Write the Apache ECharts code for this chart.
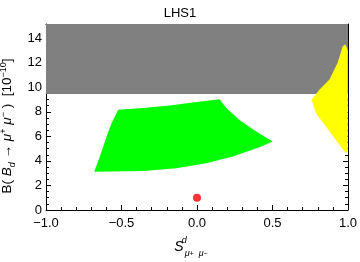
<!DOCTYPE html>
<html>
<head>
<meta charset="utf-8">
<script src="https://cdn.jsdelivr.net/npm/echarts@6/dist/echarts.min.js"></script>
<style>html,body{margin:0;padding:0;background:#fff}#c{width:360px;height:262px}</style>
</head>
<body>
<div id="c"></div>
<script>
// ---- data ----
var xRange = [-1, 1];
var yRange = [0, 15.15];
var xTicks = [-1, -0.5, 0, 0.5, 1];
var yTicks = [0, 2, 4, 6, 8, 10, 12, 14];
// excluded (gray) band: y above this value
var grayBand = [[-1, 9.45], [1, 9.45], [1, 15.15], [-1, 15.15]];
// green allowed region outline (x, y)
var greenRegion = [
  [-0.522, 8.16], [-0.357, 8.30], [-0.181, 8.51], [-0.027, 8.75], [0.149, 9.03],
  [0.194, 8.30], [0.281, 7.34], [0.392, 6.39], [0.501, 5.57],
  [0.413, 5.11], [0.237, 4.35], [0.061, 3.81], [-0.137, 3.40], [-0.357, 3.18], [-0.681, 3.12],
  [-0.643, 4.35], [-0.599, 5.98], [-0.566, 7.07]
];
// yellow allowed region outline (x, y)
var yellowRegion = [
  [0.982, 13.5], [0.964, 13.32], [0.931, 11.97], [0.876, 10.60], [0.810, 9.79], [0.759, 8.97],
  [0.788, 7.89], [0.854, 6.79], [0.920, 5.71], [0.986, 4.62], [0.998, 4.9], [0.998, 13.05]
];
// Standard Model point
var smPoint = [[0, 1.0]];

var chart = echarts.init(document.getElementById('c'), null, {renderer: 'canvas'});
var FONT = 'Liberation Sans, Arial, sans-serif';

function polySeries(pts, color, z) {
  return {
    type: 'custom', coordinateSystem: 'cartesian2d', silent: true, z: z,
    data: pts, clip: true,
    renderItem: function (params, api) {
      if (params.dataIndex !== 0) return null;
      return {
        type: 'polygon',
        shape: {points: pts.map(function (p) { return api.coord(p); })},
        style: {fill: color, stroke: null}
      };
    }
  };
}

function fmtX(v) {
  if (xTicks.indexOf(v) < 0) return '';
  return (v < 0 ? '\u2212' : '') + Math.abs(v).toFixed(1);
}
function fmtY(v) {
  return yTicks.indexOf(v) < 0 ? '' : String(v);
}

var tickStyle = {color: '#000', width: 1};
var commonX = {
  type: 'value', min: xRange[0], max: xRange[1], interval: 0.5,
  axisLine: {show: true, onZero: false, lineStyle: {color: '#000', width: 1}},
  axisTick: {show: true, inside: true, length: 5, lineStyle: tickStyle},
  minorTick: {show: true, splitNumber: 5, length: 3, lineStyle: tickStyle},
  splitLine: {show: false}
};
var commonY = {
  type: 'value', min: yRange[0], max: yRange[1], interval: 2,
  axisLine: {show: true, onZero: false, lineStyle: {color: '#000', width: 1}},
  axisTick: {show: true, inside: true, length: 5, lineStyle: tickStyle},
  minorTick: {show: true, splitNumber: 4, length: 3, lineStyle: tickStyle},
  splitLine: {show: false}
};

var xRich = {
  i: {fontSize: 14, fontFamily: FONT, fontStyle: 'italic', color: '#000', lineHeight: 22, verticalAlign: 'middle'},
  supi: {fontSize: 9, fontFamily: FONT, fontStyle: 'italic', color: '#000', lineHeight: 11, verticalAlign: 'top', width: 1},
  subi: {fontSize: 9, fontFamily: FONT, fontStyle: 'italic', color: '#000', lineHeight: 11, verticalAlign: 'bottom'},
  subr: {fontSize: 7, fontFamily: FONT, color: '#000', lineHeight: 15, verticalAlign: 'bottom'}
};
var yRich = {
  r: {fontSize: 13.5, fontFamily: FONT, color: '#000', lineHeight: 18, verticalAlign: 'middle'},
  i: {fontSize: 13.5, fontFamily: FONT, fontStyle: 'italic', color: '#000', lineHeight: 18, verticalAlign: 'middle'},
  sup: {fontSize: 9, fontFamily: FONT, color: '#000', lineHeight: 9, verticalAlign: 'top'},
  sub: {fontSize: 9, fontFamily: FONT, fontStyle: 'italic', color: '#000', lineHeight: 9, verticalAlign: 'bottom'}
};

chart.setOption({
  animation: false,
  backgroundColor: '#fff',
  title: {
    text: 'LHS1', left: 'center', top: 2,
    textStyle: {fontSize: 13, fontWeight: 'normal', fontFamily: FONT, color: '#000'}
  },
  grid: {left: 46, right: 12, top: 24, bottom: 52, containLabel: false, outerBoundsMode: 'none'},
  xAxis: [
    Object.assign({}, commonX, {
      position: 'bottom',
      axisLabel: {show: true, formatter: fmtX, margin: 7, fontSize: 13, fontFamily: FONT, color: '#000'},
      name: '{i|S}{supi|d}{subi|\u03bc}{subr|+}{subi|  \u03bc}{subr|\u2212}',
      nameLocation: 'middle', nameGap: 26,
      nameTextStyle: {rich: xRich, padding: [0, 12, 0, 0]}
    }),
    Object.assign({}, commonX, {position: 'top', axisLabel: {show: false}})
  ],
  yAxis: [
    Object.assign({}, commonY, {
      position: 'left',
      axisLabel: {show: true, formatter: fmtY, margin: 4, fontSize: 13, fontFamily: FONT, color: '#000', showMaxLabel: false},
      name: '{r|B( }{i|B}{sub|d}{r| \u2192 }{i|\u03bc}{sup|+}{r| }{i|\u03bc}{sup|\u2212}{r| )  [10}{sup|\u221210}{r|]}',
      nameLocation: 'middle', nameGap: 24, nameRotate: 90,
      nameTextStyle: {rich: yRich, padding: [0, 18, 0, 0]}
    }),
    Object.assign({}, commonY, {position: 'right', axisLabel: {show: false}})
  ],
  series: [
    polySeries(grayBand, '#808080', 1),
    polySeries(greenRegion, '#00ff00', 2),
    polySeries(yellowRegion, '#ffff00', 3),
    {
      type: 'scatter', data: smPoint, symbol: 'circle', symbolSize: 8, z: 4,
      itemStyle: {color: '#ff0000'}, silent: true
    }
  ]
});
</script>
</body>
</html>
